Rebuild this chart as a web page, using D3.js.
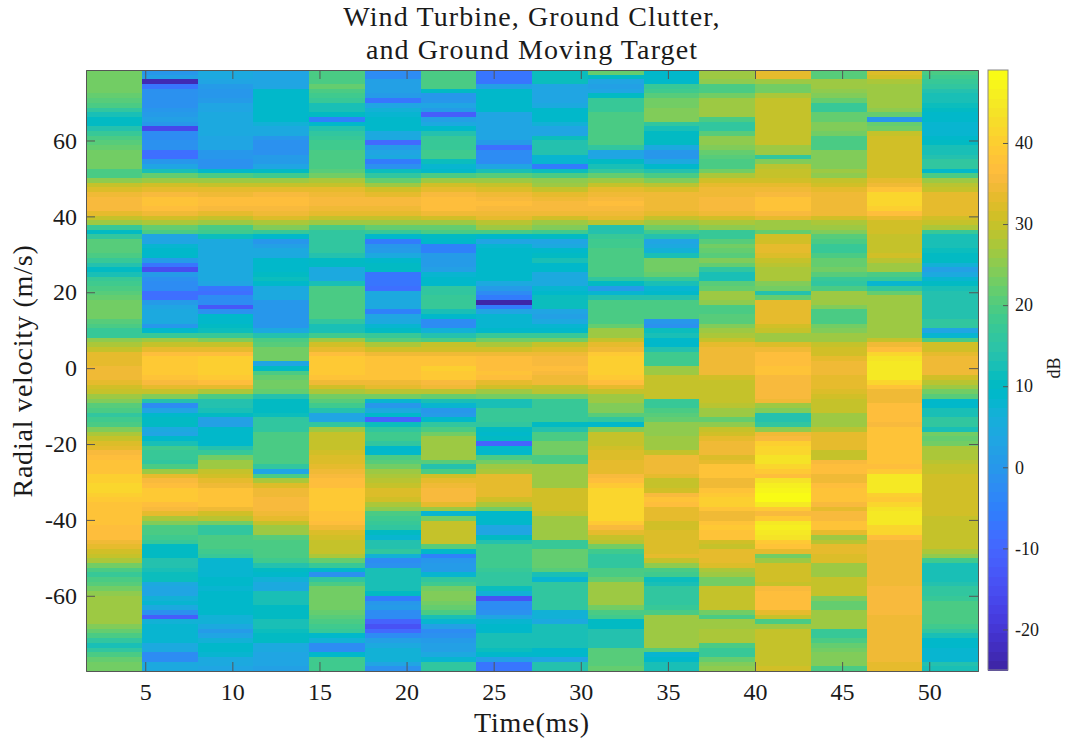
<!DOCTYPE html>
<html lang="en">
<head>
  <meta charset="UTF-8">
  <title>Wind Turbine, Ground Clutter, and Ground Moving Target</title>
  <style>
    html, body { margin: 0; padding: 0; background: #fff; }
    svg { display: block; }
    text { font-family: "Liberation Serif", serif; fill: #1a1a1a; }
  </style>
  <script src="https://d3js.org/d3.v7.min.js"></script>
</head>
<body>
  <svg id="chart" width="1070" height="740"></svg>
  <script>
    // dB values per time column, rows listed from the top of the plot down
    const col01 = [23,23,23,23,23,22,21,20,16,13,10,10,14,17,20,21,
      22,23,23,23,23,20,19,25,30,32,34,36,36,36,33,30,
      26,17,10,16,21,21,21,19,17,14,10,12,17,18,20,21,
      22,23,23,23,23,21,19,17,17,25,28,30,33,33,33,35,
      35,35,33,31,30,27,24,21,19,16,18,20,24,28,30,32,
      33,36,37,38,38,38,40,40,41,41,40,39,38,38,38,38,
      38,37,37,37,35,33,31,30,28,23,20,17,19,21,23,25,
      27,27,27,27,27,27,24,22,20,16,13,16,19,22,23,23];
    const col02 = [0,2,-23,-7,-1,-1,-1,-1,0,1,2,0,-16,-3,-2,-1,
      -1,-8,-8,0,3,13,22,27,31,33,36,38,38,37,34,31,
      28,22,19,3,3,8,9,9,1,-7,-15,1,-1,-2,-3,-8,
      -8,1,3,5,5,5,0,9,17,27,30,33,37,39,39,39,
      39,38,36,33,30,24,14,-2,3,9,10,10,4,3,9,13,
      18,17,17,16,20,27,33,36,37,39,39,39,37,36,33,28,
      24,19,19,18,17,10,10,10,14,14,12,11,11,4,3,3,
      7,8,4,-1,-12,7,8,8,8,8,5,5,-3,-3,4,4];
    const col03 = [4,4,3,1,0,0,1,3,3,4,4,4,4,4,3,3,
      3,0,0,-1,-1,9,19,26,30,33,35,37,37,36,33,30,
      27,20,18,11,5,5,4,4,4,4,4,4,4,3,-7,-8,
      -3,-2,-13,-1,9,9,10,11,17,24,30,33,37,40,40,40,
      40,39,37,33,28,20,14,14,13,10,2,2,9,9,9,9,
      14,17,23,26,27,30,31,33,34,38,38,38,38,35,31,29,
      23,16,16,19,20,20,18,17,8,8,8,8,9,9,8,9,
      9,9,9,9,7,7,4,1,3,7,9,9,8,5,4,3];
    const col04 = [3,3,3,3,9,9,9,9,9,9,9,7,4,4,0,-1,
      -1,-1,1,1,3,10,18,26,30,33,36,37,37,36,35,32,
      28,24,17,9,0,2,4,4,9,9,9,10,11,9,4,4,
      4,0,0,0,0,0,0,4,14,19,21,23,23,23,3,10,
      19,22,23,23,22,14,10,10,10,11,16,16,16,19,20,20,
      20,20,20,19,16,3,20,28,32,34,35,36,36,36,35,33,
      30,27,26,21,20,20,20,19,18,14,10,9,7,5,5,12,
      13,13,10,10,10,12,12,11,10,10,4,4,3,3,3,2];
    const col05 = [20,20,20,22,19,18,17,13,12,10,-5,9,14,16,17,18,
      18,19,19,19,19,21,23,28,30,33,35,36,36,35,33,30,
      27,20,16,16,16,16,16,14,10,10,5,4,5,13,20,20,
      20,20,19,19,19,16,13,12,18,27,31,33,37,39,39,39,
      39,38,35,31,28,23,21,18,14,3,3,16,26,30,30,30,
      30,31,32,32,33,35,36,37,37,39,39,39,39,39,38,38,
      37,34,32,31,30,30,30,28,22,17,9,-1,16,20,23,23,
      23,23,23,22,21,20,18,17,9,7,-2,-2,9,18,18,18];
    const col06 = [-2,-2,2,2,2,1,-7,3,7,8,9,9,9,4,4,-9,
      1,3,4,-6,-1,11,16,22,27,31,33,36,36,35,33,30,
      26,22,17,9,-6,0,1,4,9,10,10,-7,-7,-7,-8,4,
      4,5,5,-5,3,5,8,10,17,21,28,31,34,38,38,38,
      38,38,34,33,29,23,8,0,4,9,-10,11,16,18,18,16,
      9,9,19,21,23,26,28,29,30,32,32,31,28,25,19,18,
      17,16,10,8,14,14,16,7,-3,-1,12,13,13,13,13,10,
      -6,0,1,-2,-3,-10,-14,-9,-2,2,4,7,7,7,3,-1];
    const col07 = [19,19,19,19,10,0,0,3,1,-12,2,5,9,14,17,17,
      17,18,18,11,8,9,20,26,31,33,36,37,37,37,34,31,
      27,22,20,10,9,-5,-5,1,1,1,2,8,9,9,16,16,
      17,17,17,12,9,-2,-2,7,14,20,30,31,34,38,38,40,
      39,39,36,35,29,22,13,8,0,1,9,16,20,23,26,27,
      27,27,27,21,14,20,31,33,35,36,36,36,33,27,8,23,
      30,30,30,30,30,21,9,-5,0,1,1,8,16,18,23,24,
      24,23,22,20,13,8,2,-3,-1,1,2,2,5,8,16,16];
    const col08 = [-7,-7,-7,2,9,9,9,9,9,3,3,3,3,3,3,1,
      -8,-3,-3,-2,3,13,21,26,30,32,35,36,37,36,35,33,
      29,26,20,9,3,8,9,9,9,9,9,9,9,5,1,-2,
      -6,-24,-6,3,8,8,8,9,17,23,28,31,34,37,37,37,
      38,37,33,31,27,23,13,13,17,17,17,16,10,9,10,-11,
      9,9,19,23,27,28,33,33,33,33,33,31,28,23,9,9,
      9,3,3,10,14,18,18,18,18,18,17,16,16,16,11,7,
      -14,-2,-2,-1,3,8,9,9,13,13,13,11,9,2,-7,-7];
    const col09 = [11,11,11,3,3,3,3,5,9,9,9,7,3,3,11,14,
      14,14,8,8,-6,11,19,25,27,30,33,35,36,36,35,31,
      27,24,18,10,3,5,9,10,12,9,9,4,4,4,8,9,
      11,11,11,3,2,5,8,9,17,23,30,32,35,36,36,37,
      36,35,35,30,29,23,17,17,17,17,17,10,14,20,20,23,
      23,23,19,19,26,26,26,27,27,31,31,31,31,31,30,27,
      27,27,27,27,17,17,22,22,22,22,21,13,8,16,16,16,
      16,16,16,7,7,5,13,13,13,13,12,9,9,3,14,14];
    const col10 = [22,10,3,2,3,10,17,17,17,20,20,20,20,20,20,19,
      16,3,3,10,13,16,22,26,30,33,35,36,37,36,35,33,
      29,14,14,17,18,18,19,19,20,20,20,19,16,10,1,8,
      14,20,20,20,20,20,22,26,27,30,33,35,39,40,40,40,
      40,39,37,33,30,26,26,24,24,21,16,9,24,30,30,30,
      31,32,32,33,33,33,36,37,39,41,42,42,42,42,41,41,
      39,36,33,30,29,23,18,16,16,16,19,20,22,26,26,26,
      26,26,23,20,18,10,10,14,14,14,14,21,21,21,21,22];
    const col11 = [9,9,9,17,18,21,23,23,24,24,24,16,13,10,10,10,
      5,0,0,5,9,14,19,24,29,32,34,35,35,35,33,30,
      26,23,18,14,3,5,7,12,23,23,23,22,17,13,8,9,
      14,19,19,19,19,0,-1,11,13,9,9,14,18,18,18,26,
      27,30,30,30,30,30,17,17,20,21,22,25,25,25,26,26,
      27,30,35,35,35,35,33,30,30,31,36,38,37,33,33,33,
      31,31,32,32,32,32,32,33,30,25,19,18,11,12,16,16,
      16,16,17,19,27,27,27,26,26,26,26,21,8,9,13,13];
    const col12 = [27,27,25,19,20,23,26,26,26,26,19,16,16,21,25,25,
      24,22,21,19,20,23,28,31,33,34,35,36,36,36,35,31,
      28,25,17,17,21,23,22,21,24,22,16,13,13,21,22,27,
      27,25,20,20,21,21,24,26,28,30,33,34,35,35,35,35,
      34,31,30,30,30,30,30,29,27,27,22,25,30,31,33,34,
      34,34,32,33,38,38,38,35,35,38,39,40,40,38,35,35,
      38,39,38,38,31,30,33,33,33,32,28,27,23,23,30,30,
      30,30,30,23,19,26,26,28,28,28,20,17,17,22,24,25];
    const col13 = [33,33,27,23,23,28,30,30,30,30,30,30,30,30,30,30,
      27,26,16,24,29,30,30,31,33,35,36,38,38,38,36,33,
      27,27,22,31,31,33,33,32,30,29,28,28,28,24,23,14,
      22,33,33,33,33,33,31,30,27,27,32,34,37,37,37,38,
      38,36,36,36,36,36,35,27,24,14,14,16,25,34,36,40,
      42,42,44,44,42,39,37,44,46,47,49,49,45,39,36,39,
      45,46,45,44,39,38,33,23,27,31,31,31,31,30,36,37,
      37,37,37,33,30,19,26,30,30,30,30,30,30,30,30,31];
    const col14 = [21,21,26,26,25,24,22,17,17,22,22,24,24,23,20,19,
      19,24,24,24,24,26,25,30,31,33,35,35,35,35,35,31,
      28,26,24,21,20,17,17,20,22,22,23,21,17,16,20,26,
      26,27,24,19,19,20,23,24,26,27,30,31,31,33,35,35,
      34,33,33,33,32,31,30,30,30,27,27,27,29,33,33,33,
      33,30,30,36,37,37,35,35,37,38,38,38,36,33,36,36,
      38,38,33,27,29,33,33,32,32,27,26,26,30,30,30,30,
      24,22,22,27,27,27,26,17,17,19,22,23,24,24,24,20];
    const col15 = [32,31,28,27,27,27,27,27,25,22,0,22,23,30,31,31,
      31,31,31,31,31,31,31,33,35,38,41,41,41,40,37,33,
      31,31,31,30,30,30,30,31,29,27,26,20,17,8,16,22,
      27,27,27,27,27,27,27,27,27,30,35,37,41,44,45,45,
      45,45,41,38,35,35,35,37,37,37,37,36,38,38,38,38,
      38,38,38,38,37,39,45,45,45,45,40,39,41,44,45,45,
      45,42,41,37,35,34,34,34,34,34,34,34,34,34,36,36,
      36,36,36,36,34,34,34,35,34,35,34,34,34,34,33,33];
    const col16 = [19,18,17,16,14,13,12,11,10,9,9,8,8,8,9,10,
      12,13,14,16,16,9,20,26,29,30,33,33,33,33,33,31,
      30,28,17,13,12,12,11,10,10,7,2,4,8,10,12,14,
      14,14,14,14,14,16,16,3,8,19,31,31,33,34,34,34,
      34,31,29,27,23,21,9,9,12,13,16,16,12,23,22,23,
      28,28,28,29,30,30,31,31,31,31,31,31,31,31,31,30,
      30,30,30,30,30,30,28,25,18,13,12,12,13,14,16,16,
      17,20,20,20,20,19,18,16,13,9,9,8,8,8,14,13];
    const columns = [col01,col02,col03,col04,col05,col06,col07,col08,
      col09,col10,col11,col12,col13,col14,col15,col16];

    const timeStep = 3.2;      // ms between columns
    const velocityStep = 1.2375; // m/s between rows
    const topRowVelocity = 77.96;
    const xTicks = [5,10,15,20,25,30,35,40,45,50];
    const yTicks = [60,40,20,0,-20,-40,-60];
    const cbarTicks = [40,30,20,10,0,-10,-20];
    const titleLines = ['Wind Turbine, Ground Clutter,', 'and Ground Moving Target'];

    // parula, 64 levels
    const parula = [[.2422,.1504,.6603],[.2504,.1650,.7076],[.2578,.1818,.7511],[.2647,.1978,.7952],
      [.2706,.2147,.8364],[.2751,.2342,.8710],[.2783,.2559,.8991],[.2803,.2782,.9221],
      [.2813,.3006,.9414],[.2810,.3228,.9579],[.2795,.3447,.9717],[.2760,.3667,.9829],
      [.2699,.3892,.9906],[.2602,.4123,.9952],[.2440,.4358,.9988],[.2206,.4603,.9973],
      [.1963,.4847,.9892],[.1834,.5074,.9798],[.1786,.5289,.9682],[.1764,.5499,.9520],
      [.1687,.5703,.9359],[.1540,.5902,.9218],[.1460,.6091,.9079],[.1380,.6276,.8973],
      [.1248,.6459,.8883],[.1113,.6635,.8763],[.0952,.6798,.8598],[.0689,.6948,.8394],
      [.0297,.7082,.8163],[.0036,.7203,.7917],[.0067,.7312,.7660],[.0433,.7411,.7394],
      [.0964,.7500,.7120],[.1408,.7584,.6842],[.1717,.7670,.6554],[.1938,.7758,.6251],
      [.2161,.7843,.5923],[.2470,.7918,.5567],[.2906,.7973,.5188],[.3406,.8008,.4789],
      [.3909,.8029,.4354],[.4456,.8024,.3909],[.5044,.7993,.3480],[.5616,.7942,.3045],
      [.6174,.7876,.2612],[.6720,.7793,.2227],[.7242,.7698,.1910],[.7738,.7598,.1646],
      [.8203,.7498,.1535],[.8634,.7406,.1596],[.9035,.7330,.1774],[.9393,.7288,.2100],
      [.9728,.7298,.2394],[.9956,.7434,.2371],[.9970,.7659,.2199],[.9952,.7893,.2028],
      [.9892,.8136,.1885],[.9786,.8386,.1766],[.9676,.8639,.1643],[.9610,.8890,.1537],
      [.9597,.9135,.1423],[.9628,.9373,.1265],[.9691,.9606,.1064],[.9769,.9839,.0805]]
      .map(c => d3.rgb(c[0] * 255, c[1] * 255, c[2] * 255).formatHex());

    const plot = { left: 86, right: 978, top: 70, bottom: 671 };
    const bar = { left: 988, right: 1008 };
    const axisColor = '#555';

    const x = d3.scaleLinear()
      .domain([timeStep / 2, timeStep * columns.length + timeStep / 2])
      .range([plot.left, plot.right]);
    const y = d3.scaleLinear()
      .domain([topRowVelocity + velocityStep / 2, topRowVelocity - velocityStep * 127.5])
      .range([plot.top, plot.bottom]);
    const color = d3.scaleQuantize().domain([-25, 49]).range(parula);
    const cbarY = d3.scaleLinear().domain([49, -25]).range([plot.top, plot.bottom - 1]);

    const svg = d3.select('#chart');

    // heat map cells
    const cells = columns.flatMap((col, i) => col.map((v, j) => ({
      time: timeStep * (i + 1),
      velocity: topRowVelocity - velocityStep * j,
      value: v
    })));
    svg.append('g').attr('shape-rendering', 'crispEdges')
      .selectAll('rect')
      .data(cells)
      .join('rect')
      .attr('x', d => x(d.time - timeStep / 2))
      .attr('width', d => x(d.time + timeStep / 2) - x(d.time - timeStep / 2) + 0.5)
      .attr('y', d => y(d.velocity + velocityStep / 2))
      .attr('height', d => y(d.velocity - velocityStep / 2) - y(d.velocity + velocityStep / 2) + 0.5)
      .attr('fill', d => color(d.value));

    // axes, ticks point inward and are mirrored on the far sides
    function styleAxis(g, size) {
      g.select('.domain').attr('stroke', axisColor).attr('stroke-width', 1);
      g.selectAll('.tick line').attr('stroke', axisColor).attr('stroke-width', 1);
      g.selectAll('.tick text').attr('font-size', size).attr('fill', '#1a1a1a')
        .attr('font-family', '"Liberation Serif", serif');
    }
    svg.append('g').attr('transform', `translate(0,${plot.bottom})`)
      .call(d3.axisBottom(x).tickValues(xTicks).tickSize(-9).tickSizeOuter(0).tickPadding(12).tickFormat(String))
      .call(styleAxis, 24);
    svg.append('g').attr('transform', `translate(0,${plot.top})`)
      .call(d3.axisTop(x).tickValues(xTicks).tickSize(-9).tickSizeOuter(0).tickFormat(''))
      .call(styleAxis, 24);
    svg.append('g').attr('transform', `translate(${plot.left},0)`)
      .call(d3.axisLeft(y).tickValues(yTicks).tickSize(-9).tickSizeOuter(0).tickPadding(9).tickFormat(String))
      .call(styleAxis, 24);
    svg.append('g').attr('transform', `translate(${plot.right},0)`)
      .call(d3.axisRight(y).tickValues(yTicks).tickSize(-9).tickSizeOuter(0).tickFormat(''))
      .call(styleAxis, 24);

    // colorbar
    svg.append('g').attr('shape-rendering', 'crispEdges')
      .selectAll('rect')
      .data(parula)
      .join('rect')
      .attr('x', bar.left)
      .attr('width', bar.right - bar.left)
      .attr('y', c => cbarY(color.invertExtent(c)[1]))
      .attr('height', c => cbarY(color.invertExtent(c)[0]) - cbarY(color.invertExtent(c)[1]) + 0.5)
      .attr('fill', c => c);
    svg.append('rect')
      .attr('x', bar.left).attr('y', plot.top)
      .attr('width', bar.right - bar.left).attr('height', plot.bottom - 1 - plot.top)
      .attr('fill', 'none').attr('stroke', '#888');
    svg.append('g').attr('transform', `translate(${bar.right},0)`)
      .call(d3.axisRight(cbarY).tickValues(cbarTicks).tickSize(-5).tickSizeOuter(0).tickPadding(7).tickFormat(String))
      .call(styleAxis, 18)
      .call(g => g.select('.domain').remove());

    // labels
    svg.selectAll('.title')
      .data(titleLines)
      .join('text')
      .attr('class', 'title')
      .attr('x', 532)
      .attr('y', (d, i) => 26 + i * 32.5)
      .attr('text-anchor', 'middle')
      .attr('font-size', 28)
      .attr('letter-spacing', 1.1)
      .text(d => d);
    svg.append('text')
      .attr('x', 532).attr('y', 732)
      .attr('text-anchor', 'middle').attr('font-size', 28)
      .attr('letter-spacing', 0.8)
      .text('Time(ms)');
    svg.append('text')
      .attr('transform', 'translate(32,371) rotate(-90)')
      .attr('text-anchor', 'middle').attr('font-size', 28)
      .attr('letter-spacing', 0.8)
      .text('Radial velocity (m/s)');
    svg.append('text')
      .attr('transform', 'translate(1060,368) rotate(-90)')
      .attr('text-anchor', 'middle').attr('font-size', 18)
      .text('dB');
  </script>
</body>
</html>
